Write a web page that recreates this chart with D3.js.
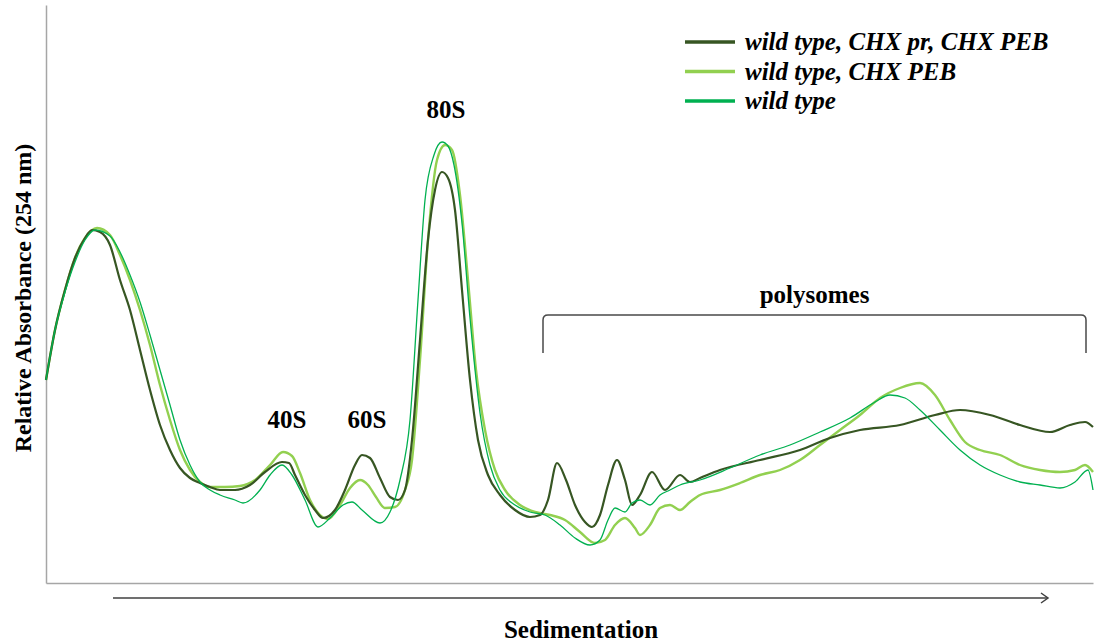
<!DOCTYPE html>
<html>
<head>
<meta charset="utf-8">
<script src="https://cdn.jsdelivr.net/npm/d3@7"></script>
<style>
  body { margin: 0; background: #fff; }
  text { font-family: "Liberation Serif", "Times New Roman", serif; font-weight: bold; }
</style>
</head>
<body>
<script>
// series labels (legend order)
const seriesNames = ["wild type, CHX pr, CHX PEB", "wild type, CHX PEB", "wild type"];
const seriesColors = ["#375623", "#92d050", "#00b050"];

// [sedimentation position, relative absorbance] read from the profile
const chxPrPeb = [
  [0,203],[9,253],[19,293],[29,325],[39,345],[46,353],[54,351],[64,338],[74,303],[84,273],
  [94,233],[104,193],[114,158],[124,133],[134,115],[144,105],[154,100],[164,96],[174,93],[189,93],
  [204,98],[219,111],[236,121],[243,120],[249,108],[259,88],[269,73],[277,65],[289,73],[299,93],
  [309,118],[316,128],[324,125],[334,105],[344,86],[352,83],[359,93],[366,143],[374,243],[382,343],
  [389,393],[396,411],[402,405],[409,373],[416,293],[424,203],[432,143],[442,108],[454,88],[469,73],
  [484,66],[494,68],[502,83],[511,120],[520,103],[529,78],[539,61],[546,56],[554,68],[562,98],
  [571,123],[579,103],[586,78],[594,88],[606,111],[619,93],[634,108],[644,101],[654,105],[674,113],
  [714,123],[754,133],[784,145],[814,153],[854,158],[889,168],[914,173],[944,168],[974,158],[1004,151],
  [1024,158],[1039,161],[1047,156]
];
const chxPeb = [
  [0,203],[9,253],[19,293],[29,325],[39,345],[51,355],[64,348],[74,328],[84,303],[94,273],
  [104,238],[114,198],[124,163],[134,133],[144,113],[154,101],[164,96],[179,96],[194,97],[209,103],
  [224,118],[237,131],[246,127],[254,110],[264,83],[274,68],[282,64],[294,78],[304,95],[314,103],
  [322,98],[330,86],[339,75],[349,76],[359,93],[366,123],[374,223],[382,343],[391,423],[399,438],
  [406,433],[414,388],[422,303],[430,213],[439,153],[449,113],[459,93],[474,78],[489,71],[504,68],
  [519,63],[534,51],[549,40],[559,43],[569,58],[579,65],[589,55],[594,48],[604,58],[614,75],
  [624,78],[634,73],[644,81],[654,88],[674,93],[694,100],[714,108],[734,113],[754,123],[774,138],
  [794,153],[814,168],[834,185],[854,195],[874,200],[889,188],[904,163],[919,141],[934,133],[954,128],
  [974,118],[994,113],[1014,111],[1029,113],[1039,118],[1047,111]
];
const wildType = [
  [0,203],[9,253],[19,291],[29,321],[39,343],[49,353],[64,347],[74,331],[84,308],[94,281],
  [104,248],[114,213],[124,178],[134,143],[144,118],[154,101],[164,93],[174,88],[189,83],[197,80],
  [214,93],[224,108],[236,118],[246,108],[259,83],[272,56],[284,65],[297,78],[306,81],[316,73],
  [334,60],[344,71],[354,103],[364,163],[372,283],[379,383],[388,428],[396,441],[402,437],[408,418],
  [416,360],[424,265],[434,170],[444,118],[454,93],[469,78],[484,71],[499,68],[514,58],[529,45],
  [544,38],[554,43],[562,63],[569,75],[579,71],[586,80],[594,83],[604,78],[614,88],[624,93],
  [634,98],[654,103],[684,115],[714,128],[744,138],[774,151],[804,165],[829,181],[844,188],[859,185],
  [874,173],[894,153],[914,133],[934,118],[954,108],[974,101],[994,98],[1014,95],[1029,101],[1042,113],
  [1047,93]
];
const seriesData = [chxPrPeb, chxPeb, wildType];

// peak annotations [label, position, height]
const peakLabels = [["40S", 241, 155], ["60S", 321, 155], ["80S", 400, 465]];
const polysomeRange = [497, 1040];

const W = 1096, H = 642;
const margin = {top: 5, right: 3, bottom: 59, left: 46};
const innerW = W - margin.left - margin.right,
      innerH = H - margin.top - margin.bottom;

const svg = d3.select("body").append("svg")
  .attr("width", W).attr("height", H);
const g = svg.append("g")
  .attr("transform", "translate(" + margin.left + "," + margin.top + ")");

const x = d3.scaleLinear().domain([0, 1047]).range([0, innerW]);
const y = d3.scaleLinear().domain([0, 578]).range([innerH, 0]);

// axes: plain grey lines, no ticks
g.append("g").attr("transform", "translate(0," + innerH + ")")
  .call(d3.axisBottom(x).ticks(0).tickSizeOuter(0))
  .select(".domain").attr("stroke", "#a6a6a6").attr("stroke-width", 1.5);
g.append("g")
  .call(d3.axisLeft(y).ticks(0).tickSizeOuter(0))
  .select(".domain").attr("stroke", "#a6a6a6").attr("stroke-width", 1.5);

const line = d3.line()
  .x(d => x(d[0])).y(d => y(d[1]))
  .curve(d3.curveMonotoneX);

const widths = [2.2, 2.4, 1.3];
[1, 0, 2].forEach(i => {
  g.append("path")
    .datum(seriesData[i])
    .attr("fill", "none")
    .attr("stroke", seriesColors[i])
    .attr("stroke-width", widths[i])
    .attr("d", line);
});

// peak labels
g.selectAll(".peak")
  .data(peakLabels)
  .enter().append("text")
  .attr("x", d => x(d[1]))
  .attr("y", d => y(d[2]))
  .attr("text-anchor", "middle")
  .style("font-size", "25px")
  .text(d => d[0]);

// polysome bracket
const bx0 = x(polysomeRange[0]), bx1 = x(polysomeRange[1]);
const by = y(268), byb = y(230);
g.append("path")
  .attr("d", "M" + bx0 + "," + byb + " L" + bx0 + "," + (by + 5) +
    " Q" + bx0 + "," + by + " " + (bx0 + 5) + "," + by +
    " L" + (bx1 - 5) + "," + by + " Q" + bx1 + "," + by + " " + bx1 + "," + (by + 5) +
    " L" + bx1 + "," + byb)
  .attr("fill", "none").attr("stroke", "#4a4a4a").attr("stroke-width", 1.5);
g.append("text")
  .attr("x", (bx0 + bx1) / 2).attr("y", by - 12)
  .attr("text-anchor", "middle")
  .style("font-size", "25px")
  .text("polysomes");

// legend
const legend = svg.append("g").attr("transform", "translate(685,42)");
seriesNames.forEach((name, i) => {
  legend.append("line")
    .attr("x1", 0).attr("x2", 50)
    .attr("y1", i * 29.5).attr("y2", i * 29.5)
    .attr("stroke", seriesColors[i]).attr("stroke-width", 3.5);
  legend.append("text")
    .attr("x", 60).attr("y", i * 29.5 + 8)
    .style("font-size", "25px").style("font-style", "italic")
    .text(name);
});

// sedimentation arrow
svg.append("line")
  .attr("x1", 113).attr("x2", 1048).attr("y1", 598).attr("y2", 598)
  .attr("stroke", "#404040").attr("stroke-width", 1.5);
svg.append("path")
  .attr("d", "M1041,593 L1048,598 L1041,603")
  .attr("fill", "none").attr("stroke", "#404040").attr("stroke-width", 1.5);

svg.append("text")
  .attr("x", 581).attr("y", 638)
  .attr("text-anchor", "middle")
  .style("font-size", "25px")
  .text("Sedimentation");

svg.append("text")
  .attr("transform", "translate(31,298) rotate(-90)")
  .attr("text-anchor", "middle")
  .style("font-size", "24px")
  .text("Relative Absorbance (254 nm)");
</script>
</body>
</html>
